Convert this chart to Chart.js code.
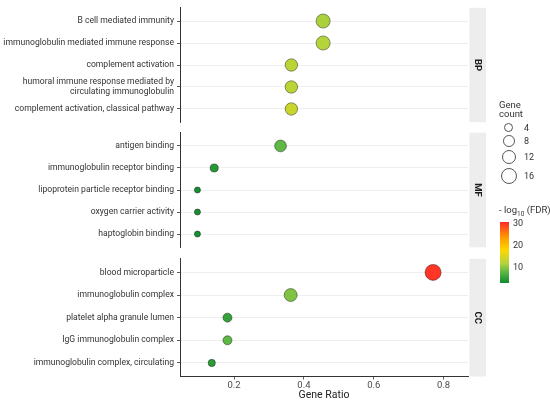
<!DOCTYPE html>
<html>
<head>
<meta charset="utf-8">
<script src="https://cdn.jsdelivr.net/npm/chart.js@4.4.0/dist/chart.umd.min.js"></script>
<style>
  body { margin: 0; background: #fff; font-family: Roboto, "Noto Sans", sans-serif; }
  #wrap { position: relative; width: 550px; height: 405px; overflow: hidden; }
  canvas { position: absolute; left: 0; }
  .lg { position: absolute; font-size: 9px; color: #333; white-space: nowrap; }
  .circ { position: absolute; border: 0.9px solid #555; border-radius: 50%; box-sizing: border-box; background: #fff; }
  #barra { position: absolute; left: 499.5px; top: 221.7px; width: 9px; height: 61px; }
</style>
</head>
<body>
<div id="wrap">
  <canvas id="bp" width="550" height="130" style="top:0px"></canvas>
  <canvas id="mf" width="550" height="130" style="top:125px"></canvas>
  <canvas id="cc" width="550" height="155" style="top:250px"></canvas>
  <div id="leyenda"></div>
  <div id="barra"></div>
</div>
<script>
// Biological process
var bpTerms = ['B cell mediated immunity', 'immunoglobulin mediated immune response', 'complement activation',
    ['humoral immune response mediated by', 'circulating immunoglobulin'], 'complement activation, classical pathway'];
var bpRatio = [0.455, 0.455, 0.364, 0.364, 0.364];
var bpCount = [12, 12, 9, 9, 9];
var bpLogFdr = [11.5, 12, 12.5, 12.5, 13.5];

// Molecular function
var mfTerms = ['antigen binding', 'immunoglobulin receptor binding', 'lipoprotein particle receptor binding',
    'oxygen carrier activity', 'haptoglobin binding'];
var mfRatio = [0.333, 0.143, 0.095, 0.095, 0.095];
var mfCount = [8, 3, 1, 1, 1];
var mfLogFdr = [8, 4.5, 3.5, 3.5, 3.5];

// Cellular component
var ccTerms = ['blood microparticle', 'immunoglobulin complex', 'platelet alpha granule lumen',
    'IgG immunoglobulin complex', 'immunoglobulin complex, circulating'];
var ccRatio = [0.77, 0.362, 0.181, 0.181, 0.136];
var ccCount = [16, 10, 4, 4, 2];
var ccLogFdr = [30, 9.5, 5.5, 8, 5];

var xTicks = [0.2, 0.4, 0.6, 0.8];
var sizeBreaks = [4, 8, 12, 16];
var colorBreaks = [10, 20, 30];
var colorMin = 3, colorMax = 30.7;

// colour scale stops (value, colour)
var escala = [[3, [15, 138, 48]], [8, [93, 184, 69]], [12, [181, 212, 58]],
              [18, [255, 215, 0]], [24, [255, 149, 0]], [30.7, [255, 42, 42]]];

/**
 * Radius of a point for a gene count (area scale)
 */
var radioPunto = function(n) {
    return Math.sqrt(5.7 + 3.65 * n);
};

/**
 * Colour for a -log10(FDR) value
 */
var colorValor = function(v) {
    for (var i = 1; i < escala.length; i++) {
        if (v <= escala[i][0] || i === escala.length - 1) {
            var a = escala[i - 1], b = escala[i];
            var t = Math.max(0, Math.min(1, (v - a[0]) / (b[0] - a[0])));
            var c = a[1].map(function(x, k) { return Math.round(x + (b[1][k] - x) * t); });
            return 'rgb(' + c.join(',') + ')';
        }
    }
};

/**
 * Grey facet strip on the right of each panel
 */
var pluginStrip = {
    id: 'strip',
    afterDraw: function(chart, args, opts) {
        var ctx = chart.ctx, a = chart.chartArea;
        ctx.save();
        ctx.fillStyle = '#ededed';
        ctx.fillRect(a.right + 1.5, a.top, 16.5, a.bottom - a.top);
        ctx.translate(a.right + 1.5 + 8.25, (a.top + a.bottom) / 2);
        ctx.rotate(Math.PI / 2);
        ctx.fillStyle = '#1a1a1a';
        ctx.font = 'bold 9.5px Roboto';
        ctx.textAlign = 'center';
        ctx.textBaseline = 'middle';
        ctx.fillText(opts.text, 0, 0);
        ctx.restore();
    }
};

var fuente = { family: 'Roboto', size: 8.6, lineHeight: 1.1 };

var crearPanel = function(id, nombre, terms, ratio, count, fdr, conEjeX, padTop, padBottom) {
    var puntos = ratio.map(function(r, i) { return { x: r, y: i }; });

    return new Chart(document.getElementById(id), {
        type: 'scatter',
        data: {
            datasets: [{
                data: puntos,
                pointRadius: count.map(radioPunto),
                pointHoverRadius: count.map(radioPunto),
                backgroundColor: fdr.map(colorValor),
                borderColor: 'rgba(0,0,0,0.5)',
                borderWidth: 0.8
            }]
        },
        plugins: [pluginStrip],
        options: {
            responsive: false,
            animation: false,
            events: [],
            layout: { padding: { left: 0, right: 82, top: padTop, bottom: padBottom } },
            plugins: { legend: { display: false }, tooltip: { enabled: false }, strip: { text: nombre } },
            scales: {
                x: {
                    type: 'linear',
                    display: conEjeX,
                    min: 0.045,
                    max: 0.87,
                    afterBuildTicks: function(scale) {
                        scale.ticks = xTicks.map(function(v) { return { value: v }; });
                    },
                    afterFit: function(scale) { if (conEjeX) scale.height = 25.5; },
                    grid: { drawOnChartArea: false, tickLength: 3, tickColor: '#333', lineWidth: 0.8 },
                    border: { color: '#333', width: 1 },
                    ticks: {
                        padding: 1,
                        color: '#4d4d4d',
                        font: { family: 'Roboto', size: 9.5, lineHeight: 1.1 },
                        callback: function(v) { return v.toFixed(1); }
                    },
                    title: {
                        display: true,
                        text: 'Gene Ratio',
                        color: '#222',
                        font: { family: 'Roboto', size: 10.5, lineHeight: 1.2 },
                        padding: { top: 1, bottom: 0 }
                    }
                },
                y: {
                    type: 'linear',
                    reverse: true,
                    min: -0.6,
                    max: terms.length - 0.4,
                    afterBuildTicks: function(scale) {
                        scale.ticks = terms.map(function(t, i) { return { value: i }; });
                    },
                    afterFit: function(scale) { scale.width = 180; },
                    grid: { color: '#ebebeb', lineWidth: 0.8, tickLength: 3, tickColor: '#333' },
                    border: { color: '#333', width: 1 },
                    ticks: {
                        autoSkip: false,
                        padding: 3,
                        color: '#333',
                        font: fuente,
                        callback: function(v) { return terms[Math.round(v)]; }
                    }
                }
            }
        }
    });
};

crearPanel('bp', 'BP', bpTerms, bpRatio, bpCount, bpLogFdr, false, 7, 3);
crearPanel('mf', 'MF', mfTerms, mfRatio, mfCount, mfLogFdr, false, 6, 4);
crearPanel('cc', 'CC', ccTerms, ccRatio, ccCount, ccLogFdr, true, 6.5, 3);

// legends
var leyenda = document.getElementById('leyenda');
var html = '<div class="lg" style="left:499px;top:100px;font-size:9.5px;line-height:9px">Gene<br>count</div>';
var yCirc = [127.7, 141, 156.7, 176];
sizeBreaks.forEach(function(n, i) {
    var r = radioPunto(n);
    html += '<div class="circ" style="left:' + (509 - r) + 'px;top:' + (yCirc[i] - r) + 'px;width:' + (2 * r) + 'px;height:' + (2 * r) + 'px"></div>';
    html += '<div class="lg" style="left:524px;top:' + (yCirc[i] - 6) + 'px;line-height:12px">' + n + '</div>';
});
html += '<div class="lg" style="left:499px;top:204px;font-size:9.5px;line-height:12px">- log<sub style="font-size:6.5px">10</sub> (FDR)</div>';
colorBreaks.forEach(function(v) {
    var y = 282.7 - (v - colorMin) / (colorMax - colorMin) * 61;
    html += '<div class="lg" style="left:513px;top:' + (y - 6) + 'px;line-height:12px">' + v + '</div>';
});
leyenda.innerHTML = html;

var pasos = escala.map(function(s) {
    return 'rgb(' + s[1].join(',') + ') ' + ((s[0] - colorMin) / (colorMax - colorMin) * 100).toFixed(1) + '%';
});
document.getElementById('barra').style.background = 'linear-gradient(to top, ' + pasos.join(', ') + ')';
</script>
</body>
</html>
